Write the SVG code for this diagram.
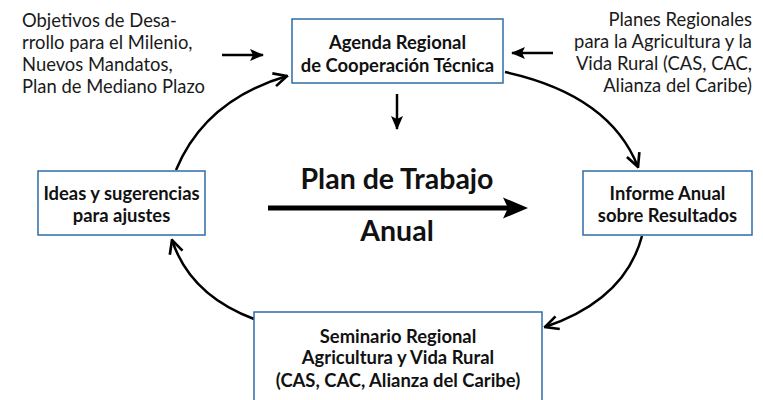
<svg xmlns="http://www.w3.org/2000/svg" width="763" height="400" viewBox="0 0 763 400">
<defs>
<style>
.box{fill:#fff;stroke:#2e6ca8;stroke-width:1.5}
.bt{font-family:Lato,"Liberation Sans",sans-serif;font-weight:bold;font-size:18.4px;fill:#111;text-anchor:middle}
.ann{font-family:Lato,"Liberation Sans",sans-serif;font-size:18.4px;fill:#1a1a1a}
.big{font-family:Lato,"Liberation Sans",sans-serif;font-weight:bold;font-size:28.5px;fill:#111;text-anchor:middle}
.c{fill:none;stroke:#000;stroke-width:2.5}
</style>
<marker id="ah" viewBox="0 0 12 12" refX="11" refY="6" markerWidth="6.4" markerHeight="6.4" markerUnits="strokeWidth" orient="auto">
<path d="M1,1 L11,6 L1,11" fill="none" stroke="#000" stroke-width="2"/>
</marker>
<marker id="fh" viewBox="0 0 14 12" refX="13" refY="6" markerWidth="5.6" markerHeight="4.8" markerUnits="strokeWidth" orient="auto">
<path d="M0,0 L14,6 L0,12 L3,6 Z" fill="#000"/>
</marker>
</defs>
<g id="connectors">
<path class="c" d="M176,170 Q205,100 287,76" marker-end="url(#ah)"/>
<path class="c" d="M505,72 Q610,95 638,167" marker-end="url(#ah)"/>
<path class="c" d="M642,236 Q625,300 545,327" marker-end="url(#ah)"/>
<path class="c" d="M254,319 Q190,295 172,240" marker-end="url(#ah)"/>
<path class="c" d="M222,55 L263,55" marker-end="url(#fh)"/>
<path class="c" d="M553,53 L512,53" marker-end="url(#fh)"/>
<path class="c" d="M397,94 L397,129" marker-end="url(#fh)"/>
<path d="M268,208 L508,208" fill="none" stroke="#000" stroke-width="5"/>
<path d="M503,197.5 L528,208 L503,218.5 L508,208 Z" fill="#000"/>
</g>
<g id="top">
<rect class="box" x="292" y="19" width="211" height="64"/>
<text class="bt" x="397.5" y="49">Agenda Regional</text>
<text class="bt" x="397.5" y="72">de Cooperación Técnica</text>
</g>
<g id="left">
<rect class="box" x="38" y="171" width="167" height="64"/>
<text class="bt" x="121.5" y="200">Ideas y sugerencias</text>
<text class="bt" x="121.5" y="222">para ajustes</text>
</g>
<g id="right">
<rect class="box" x="583" y="171" width="169" height="64"/>
<text class="bt" x="667.5" y="200">Informe Anual</text>
<text class="bt" x="667.5" y="222">sobre Resultados</text>
</g>
<g id="bottom">
<rect class="box" x="254" y="312" width="288" height="92"/>
<text class="bt" x="398" y="343">Seminario Regional</text>
<text class="bt" x="398" y="364">Agricultura y Vida Rural</text>
<text class="bt" x="398" y="387">(CAS, CAC, Alianza del Caribe)</text>
</g>
<g id="center">
<text class="big" x="397" y="189">Plan de Trabajo</text>
<text class="big" x="397" y="241">Anual</text>
</g>
<g id="ann-left">
<text class="ann" x="22" y="27">Objetivos de Desa-</text>
<text class="ann" x="22" y="49">rrollo para el Milenio,</text>
<text class="ann" x="22" y="71">Nuevos Mandatos,</text>
<text class="ann" x="22" y="93">Plan de Mediano Plazo</text>
</g>
<g id="ann-right">
<text class="ann" x="752" y="26" text-anchor="end">Planes Regionales</text>
<text class="ann" x="752" y="48" text-anchor="end">para la Agricultura y la</text>
<text class="ann" x="752" y="70" text-anchor="end">Vida Rural (CAS, CAC,</text>
<text class="ann" x="752" y="92" text-anchor="end">Alianza del Caribe)</text>
</g>
</svg>
